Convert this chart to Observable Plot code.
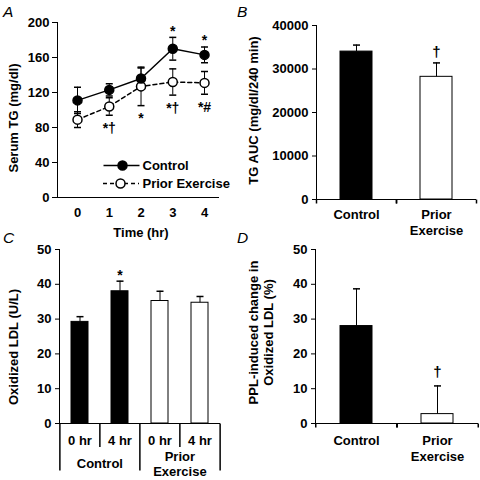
<!DOCTYPE html>
<html><head><meta charset="utf-8">
<script src="https://cdn.jsdelivr.net/npm/d3@7"></script>
<script src="https://cdn.jsdelivr.net/npm/@observablehq/plot@0.6"></script>
<style>
html,body{margin:0;padding:0;background:#fff;}
#wrap{position:relative;width:480px;height:480px;overflow:hidden;background:#fff;}
.letter{position:absolute;font-style:italic;font-size:15.5px;line-height:1;font-family:"Liberation Sans",Arial,sans-serif;color:#000;}
</style></head><body><div id="wrap"></div>
<script>
// ---- Panel A: serum TG over time ----
const timeHr = [0, 1, 2, 3, 4];
const tgControl = [111, 123, 136, 170, 163];
const tgControlErr = [15, 7, 12, 13, 9];
const tgPrior = [89, 104, 127, 132, 131];
const tgPriorErr = [9, 10, 22, 15, 13];
const tgControlMarks = ["", "", "", "*", "*"];
const tgPriorMarks = ["", "*†", "*", "*†", "*#"];
const aTicks = [0, 40, 80, 120, 160, 200];

// ---- Panel B: TG AUC ----
const aucGroups = ["Control", "Prior Exercise"];
const aucValues = [34000, 28200];
const aucErr = [1500, 3200];
const aucMarks = ["", "†"];
const bTicks = [0, 10000, 20000, 30000, 40000];

// ---- Panel C: oxidized LDL ----
const oxGroups = ["Control", "Control", "Prior Exercise", "Prior Exercise"];
const oxTimes = ["0 hr", "4 hr", "0 hr", "4 hr"];
const oxValues = [29.2, 38.0, 35.2, 34.7];
const oxErr = [1.5, 2.9, 2.8, 1.8];
const oxMarks = ["", "*", "", ""];
const cTicks = [0, 10, 20, 30, 40, 50];

// ---- Panel D: PPL-induced change ----
const chgGroups = ["Control", "Prior Exercise"];
const chgValues = [28.0, 2.7];
const chgErr = [10.7, 8.1];
const chgMarks = ["", "†"];
const dTicks = [0, 10, 20, 30, 40, 50];

const W = 240, H = 240;
const fontFamily = '"Liberation Sans", Arial, Helvetica, sans-serif';
const baseStyle = {fontFamily, fontSize: "13px", fontWeight: "bold", background: "transparent", color: "black", overflow: "visible"};
const hLine = {draw(ctx, size) { const r = Math.sqrt(size / Math.PI); ctx.moveTo(-r, 0); ctx.lineTo(r, 0); }};
const vDown = {draw(ctx, size) { const r = Math.sqrt(size / Math.PI); ctx.moveTo(0, 0); ctx.lineTo(0, r); }};
const wrap2 = s => s.replace(" ", "\n");
const barFill = {domain: ["Control", "Prior Exercise"], range: ["black", "white"]};
const capR = 3.5;
const yTitle = (label, dx, dy, extra = {}) =>
  Plot.text([label], {frameAnchor: "left", textAnchor: "middle", lineAnchor: "middle", rotate: -90, dx, dy, text: d => d, ...extra});

// Panel A
const aDomain = [-0.63, 4.44];
const aRows = timeHr.map((t, i) => ({t, c: tgControl[i], ce: tgControlErr[i], p: tgPrior[i], pe: tgPriorErr[i], cm: tgControlMarks[i], pm: tgPriorMarks[i]}));
const A = Plot.plot({
  width: W, height: H, marginLeft: 57, marginRight: 22, marginTop: 22, marginBottom: 43,
  style: baseStyle,
  x: {type: "linear", domain: aDomain, ticks: timeHr, tickFormat: d3.format("d"), tickSize: 0, tickPadding: 10, label: null, line: true},
  y: {domain: [0, 200], ticks: aTicks, tickSize: 5, tickPadding: 3, label: null, line: true},
  marks: [
    Plot.ruleX(aRows, {x: "t", y1: d => d.p - d.pe, y2: d => d.p + d.pe, stroke: "black"}),
    Plot.dot(aRows, {x: "t", y: d => d.p + d.pe, symbol: hLine, r: capR, stroke: "black", fill: "none"}),
    Plot.dot(aRows, {x: "t", y: d => d.p - d.pe, symbol: hLine, r: capR, stroke: "black", fill: "none"}),
    Plot.ruleX(aRows, {x: "t", y1: d => d.c - d.ce, y2: d => d.c + d.ce, stroke: "black"}),
    Plot.dot(aRows, {x: "t", y: d => d.c + d.ce, symbol: hLine, r: capR, stroke: "black", fill: "none"}),
    Plot.dot(aRows, {x: "t", y: d => d.c - d.ce, symbol: hLine, r: capR, stroke: "black", fill: "none"}),
    Plot.line(aRows, {x: "t", y: "p", stroke: "black", strokeDasharray: "4,3"}),
    Plot.line(aRows, {x: "t", y: "c", stroke: "black"}),
    Plot.dot(aRows, {x: "t", y: "p", r: 4.5, fill: "white", stroke: "black"}),
    Plot.dot(aRows, {x: "t", y: "c", r: 4.5, fill: "black", stroke: "black"}),
    Plot.text(aRows.filter(d => d.cm), {x: "t", y: d => d.c + d.ce, text: "cm", dy: -6, fontSize: 14}),
    Plot.text(aRows.filter(d => d.pm), {x: "t", y: d => d.p - d.pe, text: "pm", dy: 13, fontSize: 14}),
    // legend
    Plot.dot(["Control"], {frameAnchor: "bottom-left", dx: 64, dy: -32, symbol: hLine, r: 18, stroke: "black", fill: "none"}),
    Plot.dot(["Control"], {frameAnchor: "bottom-left", dx: 65, dy: -32, r: 4.5, fill: "black", stroke: "black"}),
    Plot.text(["Control"], {frameAnchor: "bottom-left", dx: 85, dy: -32, textAnchor: "start", lineAnchor: "middle", text: d => d}),
    Plot.dot(["Prior Exercise"], {frameAnchor: "bottom-left", dx: 63.5, dy: -14, symbol: hLine, r: 18, stroke: "black", fill: "none", strokeDasharray: "4,3"}),
    Plot.dot(["Prior Exercise"], {frameAnchor: "bottom-left", dx: 63, dy: -14, r: 4.5, fill: "white", stroke: "black"}),
    Plot.text(["Prior Exercise"], {frameAnchor: "bottom-left", dx: 85, dy: -14, textAnchor: "start", lineAnchor: "middle", text: d => d}),
    yTitle("Serum TG (mg/dl)", -44, 8),
    Plot.text(["Time (hr)"], {frameAnchor: "bottom", textAnchor: "middle", lineAnchor: "middle", dx: 3, dy: 35, text: d => d})
  ]
});

// Panel B
const bRows = aucGroups.map((g, i) => ({g, v: aucValues[i], e: aucErr[i], m: aucMarks[i]}));
const bM = {l: 76, r: 4, t: 25, b: 41};
const bStep = (W - bM.l - bM.r) / bRows.length;
const B = Plot.plot({
  width: W, height: H, marginLeft: bM.l, marginRight: bM.r, marginTop: bM.t, marginBottom: bM.b,
  style: baseStyle,
  x: {domain: aucGroups, paddingInner: 0.6, paddingOuter: 0.3, axis: null},
  y: {domain: [0, 40000], ticks: bTicks, tickFormat: d3.format("d"), tickSize: 4, tickPadding: 4, label: null, line: true},
  color: barFill,
  marks: [
    Plot.barY(bRows, {x: "g", y: "v", fill: "g", stroke: "black"}),
    Plot.ruleX(bRows, {x: "g", y1: "v", y2: d => d.v + d.e, stroke: "black"}),
    Plot.dot(bRows, {x: "g", y: d => d.v + d.e, symbol: hLine, r: capR, stroke: "black", fill: "none"}),
    Plot.ruleY([0], {stroke: "black"}),
    Plot.dot(bRows, {x: "g", y: () => 0, dx: -bStep / 2, symbol: vDown, r: 4, stroke: "black", fill: "none"}),
    Plot.dot(bRows, {x: "g", y: () => 0, dx: bStep / 2, symbol: vDown, r: 4, stroke: "black", fill: "none"}),
    Plot.text(bRows.filter(d => d.m), {x: "g", y: d => d.v + d.e, text: "m", dy: -11, fontSize: 15}),
    Plot.text(bRows, {x: "g", text: d => wrap2(d.g), frameAnchor: "bottom", lineAnchor: "top", dy: 7.5, lineHeight: 1.28}),
    yTitle("TG AUC (mg/dl/240 min)", -63, -2)
  ]
});

// Panel C
const cRows = oxGroups.map((g, i) => ({key: g + " " + oxTimes[i], g, t: oxTimes[i], v: oxValues[i], e: oxErr[i], m: oxMarks[i]}));
const cM = {l: 59, r: 20, t: 9, b: 57};
const cStep = (W - cM.l - cM.r) / cRows.length;
const C = Plot.plot({
  width: W, height: H, marginLeft: cM.l, marginRight: cM.r, marginTop: cM.t, marginBottom: cM.b,
  style: baseStyle,
  x: {domain: cRows.map(d => d.key), paddingInner: 0.575, paddingOuter: 0.2875, axis: null},
  y: {domain: [0, 50], ticks: cTicks, tickSize: 4, tickPadding: 4, label: null, line: true},
  color: barFill,
  marks: [
    Plot.barY(cRows, {x: "key", y: "v", fill: "g", stroke: "black"}),
    Plot.ruleX(cRows, {x: "key", y1: "v", y2: d => d.v + d.e, stroke: "black"}),
    Plot.dot(cRows, {x: "key", y: d => d.v + d.e, symbol: hLine, r: capR, stroke: "black", fill: "none"}),
    Plot.ruleY([0], {stroke: "black"}),
    Plot.dot(cRows.filter(d => d.t === "0 hr"), {x: "key", y: () => 0, dx: -cStep / 2, symbol: vDown, r: 47, stroke: "black", fill: "none"}),
    Plot.dot(cRows.filter(d => d.t === "4 hr"), {x: "key", y: () => 0, dx: -cStep / 2, symbol: vDown, r: 23.5, stroke: "black", fill: "none"}),
    Plot.dot(cRows.slice(-1), {x: "key", y: () => 0, dx: cStep / 2, symbol: vDown, r: 47, stroke: "black", fill: "none"}),
    Plot.text(cRows, {x: "key", text: "t", frameAnchor: "bottom", lineAnchor: "top", dy: 12}),
    Plot.text(cRows.filter(d => d.t === "4 hr"), {x: "key", dx: -cStep / 2, text: d => wrap2(d.g), frameAnchor: "bottom", lineAnchor: "middle", dy: 40, lineHeight: 1.15}),
    Plot.text(cRows.filter(d => d.m), {x: "key", y: d => d.v + d.e, text: "m", dy: -6, fontSize: 14}),
    yTitle("Oxidized LDL (U/L)", -46, 10.5)
  ]
});

// Panel D
const dRows = chgGroups.map((g, i) => ({g, v: chgValues[i], e: chgErr[i], m: chgMarks[i]}));
const dM = {l: 75, r: 2, t: 9, b: 57};
const dStep = (W - dM.l - dM.r) / dRows.length;
const D = Plot.plot({
  width: W, height: H, marginLeft: dM.l, marginRight: dM.r, marginTop: dM.t, marginBottom: dM.b,
  style: baseStyle,
  x: {domain: chgGroups, paddingInner: 0.6, paddingOuter: 0.3, axis: null},
  y: {domain: [0, 50], ticks: dTicks, tickSize: 4, tickPadding: 4, label: null, line: true},
  color: barFill,
  marks: [
    Plot.barY(dRows, {x: "g", y: "v", fill: "g", stroke: "black"}),
    Plot.ruleX(dRows, {x: "g", y1: "v", y2: d => d.v + d.e, stroke: "black"}),
    Plot.dot(dRows, {x: "g", y: d => d.v + d.e, symbol: hLine, r: capR, stroke: "black", fill: "none"}),
    Plot.ruleY([0], {stroke: "black"}),
    Plot.dot(dRows, {x: "g", y: () => 0, dx: -dStep / 2, symbol: vDown, r: 4, stroke: "black", fill: "none"}),
    Plot.dot(dRows, {x: "g", y: () => 0, dx: dStep / 2, symbol: vDown, r: 4, stroke: "black", fill: "none"}),
    Plot.text(dRows.filter(d => d.m), {x: "g", y: d => d.v + d.e, text: "m", dy: -13.5, fontSize: 15}),
    Plot.text(dRows, {x: "g", text: d => wrap2(d.g), frameAnchor: "bottom", lineAnchor: "top", dy: 11, lineHeight: 1.17}),
    yTitle("PPL-induced change in\nOxidized LDL (%)", -54.5, -4, {lineHeight: 1.15})
  ]
});

const wrap = document.getElementById("wrap");
[[A, 0, 0], [B, 240, 0], [C, 0, 240], [D, 240, 240]].forEach(([svg, x, y]) => {
  svg.style.position = "absolute";
  svg.style.left = x + "px";
  svg.style.top = y + "px";
  wrap.appendChild(svg);
});
[["A", 3, 4], ["B", 237, 4], ["C", 3, 230], ["D", 237, 230]].forEach(([t, x, y]) => {
  const el = document.createElement("div");
  el.className = "letter";
  el.textContent = t;
  el.style.left = x + "px";
  el.style.top = y + "px";
  wrap.appendChild(el);
});
</script></body></html>
